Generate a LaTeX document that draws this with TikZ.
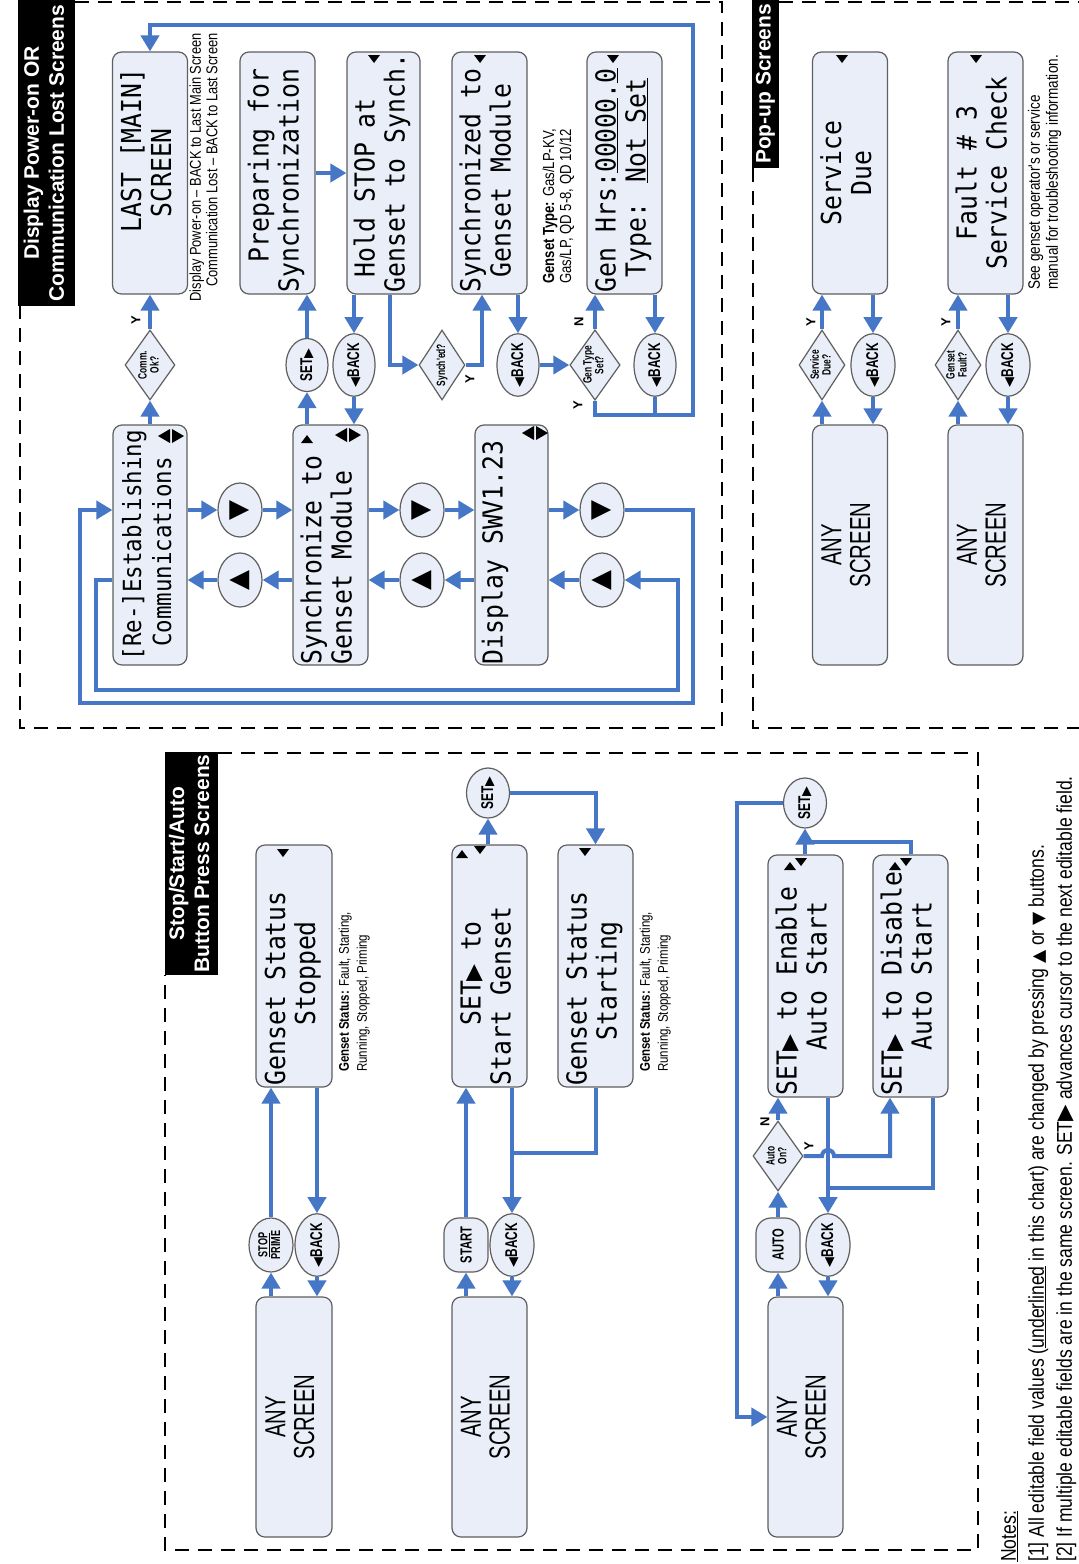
\documentclass[tikz,border=0pt]{standalone}
\usepackage{fontspec}
\usepackage{graphicx}
\usetikzlibrary{shapes.geometric,arrows.meta,calc}
\setmainfont{Liberation Sans}
\newfontfamily\lcdfont{DejaVu Sans Mono}[FakeStretch=0.9]
\newfontfamily\nsans{Liberation Sans}[FakeStretch=0.82]
\newfontfamily\csans{Liberation Sans}[FakeStretch=0.7]
\newfontfamily\symfont{DejaVu Sans}
\definecolor{flowblue}{RGB}{70,118,198}
\definecolor{boxfill}{RGB}{233,238,248}
\definecolor{boxline}{RGB}{95,95,95}
\newcommand\rot[1]{\rotatebox{90}{#1}}
\newcommand\lcdtri{\makebox[0.5418em][c]{\symfont\scalebox{0.8}{▶}}}
\newcommand\lcd[3][238pt]{\rotatebox{90}{\begin{tabular}{@{}p{#1}@{}}#2\\{}#3\end{tabular}}}
\newcommand\lcdc[2]{\rotatebox{90}{\begin{tabular}{@{}c@{}}#1\\{}#2\end{tabular}}}
\newcommand\twol[2]{\rotatebox{90}{\begin{tabular}{@{}c@{}}#1\\{}#2\end{tabular}}}
\newcommand\btnSET{\rot{SET{\symfont\scalebox{0.75}{▶}}}}
\newcommand\btnBACK{\rot{{\symfont\scalebox{0.75}{◀}}BACK}}
\newcommand\mkD[1]{\fill (#1) ++(-6,-4) -- ++(12,0) -- ++(-6,8) -- cycle;}
\newcommand\mkU[1]{\fill (#1) ++(-6,4) -- ++(12,0) -- ++(-6,-8) -- cycle;}
\newcommand\mkL[1]{\fill (#1) ++(6,-7) -- ++(0,14) -- ++(-12,-7) -- cycle;}
\newcommand\mkR[1]{\fill (#1) ++(-6,-7) -- ++(0,14) -- ++(12,-7) -- cycle;}
\tikzset{
  lcdbox/.style={draw=boxline, fill=boxfill, line width=1.2pt, rounded corners=9pt, inner sep=0pt, minimum width=75pt, minimum height=242pt, font=\lcdfont\fontsize{27.5}{30}\selectfont},
  anybox/.style={draw=boxline, fill=boxfill, line width=1.2pt, rounded corners=9pt, inner sep=0pt, minimum width=75pt, minimum height=240pt, font=\csans\fontsize{29}{28}\selectfont},
  btn/.style={ellipse, draw=boxline, fill=boxfill, line width=1.2pt, inner sep=0pt, minimum width=44pt, minimum height=54pt, font=\csans\bfseries\fontsize{17}{17}\selectfont},
  arrbtn/.style={btn, font=\symfont\fontsize{26}{26}\selectfont},
  rbtn/.style={rectangle, rounded corners=15pt, draw=boxline, fill=boxfill, line width=1.2pt, inner sep=0pt, minimum width=44pt, minimum height=54pt, font=\csans\bfseries\fontsize{16}{16}\selectfont},
  dec/.style={diamond, aspect=0.714, draw=boxline, fill=boxfill, line width=1.2pt, inner sep=0pt, minimum width=50pt, minimum height=70pt, font=\csans\bfseries\fontsize{12}{11}\selectfont},
  flow/.style={draw=flowblue, line width=4pt, -{Triangle[length=16pt,width=18pt]}},
  link/.style={draw=flowblue, line width=4pt},
  frame/.style={draw=black, line width=2pt, dash pattern=on 14pt off 9pt},
  ttl/.style={fill=black, text=white, inner sep=0pt, font=\bfseries\fontsize{21}{25}\selectfont},
  yn/.style={font=\bfseries\fontsize{13}{13}\selectfont, inner sep=0pt},
  annot/.style={inner sep=0pt, font=\nsans\fontsize{15.7}{16.5}\selectfont},
}
\begin{document}
\begin{tikzpicture}[x=1pt, y=-1pt]
\useasboundingbox (0,0) rectangle (1079,1564);
\fill[white] (0,0) rectangle (1079,1564);
% frames
\draw[frame] (75,2) -- (722,2) -- (722,728) -- (20,728) -- (20,306);
\draw[frame] (779,2) -- (1079,2);
\draw[frame] (753,168) -- (753,728) -- (1079,728);
\draw[frame] (218,753) -- (978,753) -- (978,1550) -- (165,1550) -- (165,975);
\node[ttl, minimum width=57pt, minimum height=306pt] (t1) at (46.5,153) {\twol{Display Power-on OR}{Communication Lost Screens}};
\node[ttl, minimum width=27pt, minimum height=168pt] (t2) at (765.5,84) {\rot{Pop-up Screens}};
\node[ttl, minimum width=53pt, minimum height=223pt] (t3) at (191.5,863.5) {\twol{Stop/Start/Auto}{Button Press Screens}};

% ===== Display power-on section =====
\node[lcdbox] (last) at (150,173) {\lcd{~~~~LAST [MAIN]}{~~~~~SCREEN}};
\node[lcdbox] (prep) at (277.5,173) {\lcd{~~Preparing for}{Synchronization}};
\node[lcdbox, minimum width=73pt] (hold) at (383.5,173) {\lcd{~Hold STOP at}{Genset to Synch.}};
\node[lcdbox] (synced) at (489.5,173) {\lcd{Synchronized to}{~Genset Module}};
\node[lcdbox] (genhrs) at (624.5,173) {\lcd{Gen Hrs:\underline{00000}.\underline{0}}{~Type: \underline{Not Set}}};
\node[lcdbox, minimum width=74pt, minimum height=240pt] (reest) at (150,545) {\fontsize{25}{30}\selectfont\lcd[231pt]{[Re-]Establishing}{~Communications}};
\node[lcdbox, minimum height=240pt] (sync) at (330.5,545) {\lcd{Synchronize to}{Genset Module}};
\node[lcdbox, minimum height=240pt, minimum width=73pt] (disp) at (511.5,545) {\lcd{Display SWV1.23}{}};

\node[arrbtn] (d1) at (240,510) {\rot{▼}};
\node[arrbtn] (u1) at (240,580) {\rot{▲}};
\node[arrbtn] (d2) at (422,510) {\rot{▼}};
\node[arrbtn] (u2) at (422,580) {\rot{▲}};
\node[arrbtn] (d3) at (602,510) {\rot{▼}};
\node[arrbtn] (u3) at (602,580) {\rot{▲}};

\node[dec] (comm) at (150,365) {\twol{Comm.}{Ok?}};
\node[btn, minimum width=42pt, minimum height=53pt] (set1) at (307,365) {\btnSET};
\node[btn, minimum width=42pt, minimum height=53pt] (back1) at (354,365) {\btnBACK};
\node[dec, minimum width=46pt] (synched) at (442,365) {\rot{Synch'ed?}};
\node[btn, minimum width=42pt, minimum height=53pt] (back2) at (518,365) {\btnBACK};
\node[dec] (gentype) at (595,365) {\twol{Gen Type}{Set?}};
\node[btn, minimum width=42pt, minimum height=53pt] (back3) at (655,365) {\btnBACK};

\node[yn] (ycomm) at (136,320) {\rot{Y}};
\node[yn] (ysync) at (470,379) {\rot{Y}};
\node[yn] (ngt) at (579,322) {\rot{N}};
\node[yn] (ygt) at (578,405) {\rot{Y}};

\node[annot, anchor=north west] (ann1) at (189,33) {\rot{\begin{tabular}{@{}r@{}}Display Power-on – BACK to Last Main Screen\\Communication Lost – BACK to Last Screen\end{tabular}}};
\node[annot, anchor=south west, font=\nsans\fontsize{16}{17}\selectfont] (ann2) at (542,284) {\rot{\begin{tabular}{@{}l@{}}\textbf{Genset Type:} Gas/LP-KV,\\Gas/LP, QD 5-8, QD 10/12\end{tabular}}};

\draw[flow] (reest.north) -- (comm.south);
\draw[flow] (comm.north) -- (last.south);
\draw[flow] (set1.north) -- (set1.north |- prep.south);
\draw[flow] (sync.north -| set1) -- (set1.south);
\draw[flow] (hold.south -| back1) -- (back1.north);
\draw[flow] (back1.south) -- (back1.south |- sync.north);
\draw[flow] (prep.east) -- (hold.west);
\draw[flow] ([xshift=6.5pt]hold.south) |- (synched.west);
\draw[flow] (synched.east) -| ([xshift=-7.5pt]synced.south);
\draw[flow] (synced.south -| back2) -- (back2.north);
\draw[flow] (back2.east) -- (gentype.west);
\draw[flow] (gentype.north) -- (gentype.north |- genhrs.south);
\draw[flow] (genhrs.south -| back3) -- (back3.north);
\coordinate (rr) at (693,415);
\coordinate (rt) at (150,25);
\draw[link] (back3.south) -- (back3.south |- rr);
\draw[flow] (gentype.south) |- (rr) |- (rt) -- (last.north);

\draw[flow] (reest.east |- d1) -- (d1.west);
\draw[flow] (d1.east) -- (d1.east -| sync.west);
\draw[flow] (sync.east |- d2) -- (d2.west);
\draw[flow] (d2.east) -- (d2.east -| disp.west);
\draw[flow] (disp.east |- d3) -- (d3.west);
\draw[flow] (d3.east) -| (693,703) -| (80,510) -- (reest.west |- d1);
\draw[flow] (reest.west |- u1) -| (96,690) -| (678,580) -- (u3.east);
\draw[flow] (u3.west) -- (u3.west -| disp.east);
\draw[flow] (disp.west |- u2) -- (u2.east);
\draw[flow] (u2.west) -- (u2.west -| sync.east);
\draw[flow] (sync.west |- u1) -- (u1.east);
\draw[flow] (u1.west) -- (u1.west -| reest.east);

% markers
\mkD{374,59} \mkD{480,59} \mkD{613,59}
\mkU{307,439} \mkL{341,435} \mkR{355,435}
\mkL{528,433} \mkR{542,433}
\mkL{164,436} \mkR{178,436}

% ===== Pop-up section =====
\node[lcdbox] (svc) at (850,173) {\lcdc{Service}{Due}};
\node[anybox] (any1) at (850,545) {\lcdc{ANY}{SCREEN}};
\node[dec, minimum width=46pt] (svcq) at (822,365) {\twol{Service}{Due?}};
\node[btn] (back4) at (873,365) {\btnBACK};
\node[lcdbox] (flt) at (985.5,173) {\lcdc{Fault \# 3}{Service Check}};
\node[anybox] (any2) at (985.5,545) {\lcdc{ANY}{SCREEN}};
\node[dec, minimum width=46pt] (fltq) at (958,365) {\twol{Genset}{Fault?}};
\node[btn] (back5) at (1008,365) {\btnBACK};
\node[yn] (ysvc) at (811,322) {\rot{Y}};
\node[yn] (yflt) at (946,322) {\rot{Y}};
\node[annot, anchor=south west, font=\nsans\fontsize{16.5}{18}\selectfont] (ann3) at (1027,290) {\rot{\begin{tabular}{@{}l@{}}See genset operator's or service\\manual for troubleshooting information.\end{tabular}}};
\mkD{842,59} \mkD{976,59}

\draw[flow] (any1.north -| svcq) -- (svcq.south);
\draw[flow] (svcq.north) -- (svcq.north |- svc.south);
\draw[flow] (svc.south -| back4) -- (back4.north);
\draw[flow] (back4.south) -- (back4.south |- any1.north);
\draw[flow] (any2.north -| fltq) -- (fltq.south);
\draw[flow] (fltq.north) -- (fltq.north |- flt.south);
\draw[flow] (flt.south -| back5) -- (back5.north);
\draw[flow] (back5.south) -- (back5.south |- any2.north);

% ===== Stop/Start/Auto section =====
\node[lcdbox, minimum width=76pt] (gss) at (294,966) {\lcd{Genset Status}{~~~~Stopped}};
\node[anybox, minimum width=76pt] (any3) at (294,1417) {\lcdc{ANY}{SCREEN}};
\node[btn, font=\csans\bfseries\fontsize{13}{12}\selectfont] (stop) at (271,1245) {\twol{\underline{STOP}}{PRIME}};
\node[btn] (back6) at (317,1245) {\btnBACK};
\node[annot, anchor=south west, font=\nsans\fontsize{14}{18}\selectfont] (ann4) at (336,1072) {\rot{\begin{tabular}{@{}l@{}}\textbf{Genset Status:} Fault, Starting,\\Running, Stopped, Priming\end{tabular}}};

\node[lcdbox] (sst) at (489.5,966) {\lcd{~~~~SET\lcdtri~to}{Start Genset}};
\node[anybox] (any4) at (489.5,1417) {\lcdc{ANY}{SCREEN}};
\node[rbtn] (start) at (466,1245) {\rot{START}};
\node[btn] (back7) at (512,1245) {\btnBACK};
\node[btn, minimum width=43pt, minimum height=50pt] (set2) at (488,793) {\btnSET};
\node[lcdbox] (gsst) at (595.5,966) {\lcd{Genset Status}{~~~Starting}};
\node[annot, anchor=south west, font=\nsans\fontsize{14}{18}\selectfont] (ann5) at (637,1072) {\rot{\begin{tabular}{@{}l@{}}\textbf{Genset Status:} Fault, Starting,\\Running, Stopped, Priming\end{tabular}}};

\node[lcdbox] (sen) at (805.5,976) {\lcd{SET\lcdtri~to Enable}{~~~Auto Start}};
\node[lcdbox] (sdis) at (910.5,976) {\lcd{SET\lcdtri~to Disable}{~~~Auto Start}};
\node[anybox] (any5) at (805.5,1417) {\lcdc{ANY}{SCREEN}};
\node[rbtn] (auto) at (778,1245) {\rot{AUTO}};
\node[btn] (back8) at (828,1245) {\btnBACK};
\node[dec] (autoq) at (778,1156) {\twol{Auto}{On?}};
\node[btn, minimum width=43pt, minimum height=50pt] (set3) at (805,803) {\btnSET};
\node[yn] (nauto) at (765,1122) {\rot{N}};
\node[yn] (yauto) at (809,1146) {\rot{Y}};

\mkD{283,853} \mkD{585,852}
\mkU{462,854} \mkD{480,850}
\mkU{790,866} \mkD{801,862}
\mkU{895,866} \mkD{906,862}

\draw[flow] (any3.north -| stop) -- (stop.south);
\draw[flow] (stop.north) -- (stop.north |- gss.south);
\draw[flow] (gss.south -| back6) -- (back6.north);
\draw[flow] (back6.south) -- (back6.south |- any3.north);

\draw[flow] (any4.north -| start) -- (start.south);
\draw[flow] (start.north) -- (start.north |- sst.south);
\draw[flow] (sst.north -| set2) -- (set2.south);
\draw[flow] (set2.east) -| (gsst.north);
\draw[flow] (sst.south -| back7) -- (back7.north);
\draw[flow] (back7.south) -- (back7.south |- any4.north);
\coordinate (j2) at (512,1153);
\draw[link] (gsst.south) |- (j2);

\draw[flow] (any5.north -| auto) -- (auto.south);
\draw[flow] (auto.north) -- (autoq.south);
\draw[flow] (autoq.north) -- (autoq.north |- sen.south);
\draw[flow] (autoq.east) -- (822,1156) arc[start angle=180,end angle=0,radius=6pt] -| ([xshift=-20.5pt]sdis.south);
\draw[flow] (sen.south -| back8) -- (back8.north);
\coordinate (j3) at (828,1188);
\draw[link] ([xshift=22.5pt]sdis.south) |- (j3);
\draw[flow] (back8.south) -- (back8.south |- any5.north);
\draw[flow] (sen.north -| set3) -- (set3.south);
\coordinate (j4) at (805,842);
\draw[link] (sdis.north) |- (j4);
\draw[flow] (set3.west) -- (737,803) |- (any5.west);

% notes
\node[annot, anchor=south west, font=\nsans\fontsize{21.4}{28}\selectfont] (notes) at (996,1562) {\rot{\begin{tabular}{@{}l@{}}\underline{Notes:}\\{}[1] All editable field values (\underline{underlined} in this chart) are changed by pressing {\symfont\scalebox{0.8}{▲}} or {\symfont\scalebox{0.8}{▼}} buttons.\\{}[2] If multiple editable fields are in the same screen. SET{\symfont▶} advances cursor to the next editable field.\end{tabular}}};
\end{tikzpicture}
\end{document}
